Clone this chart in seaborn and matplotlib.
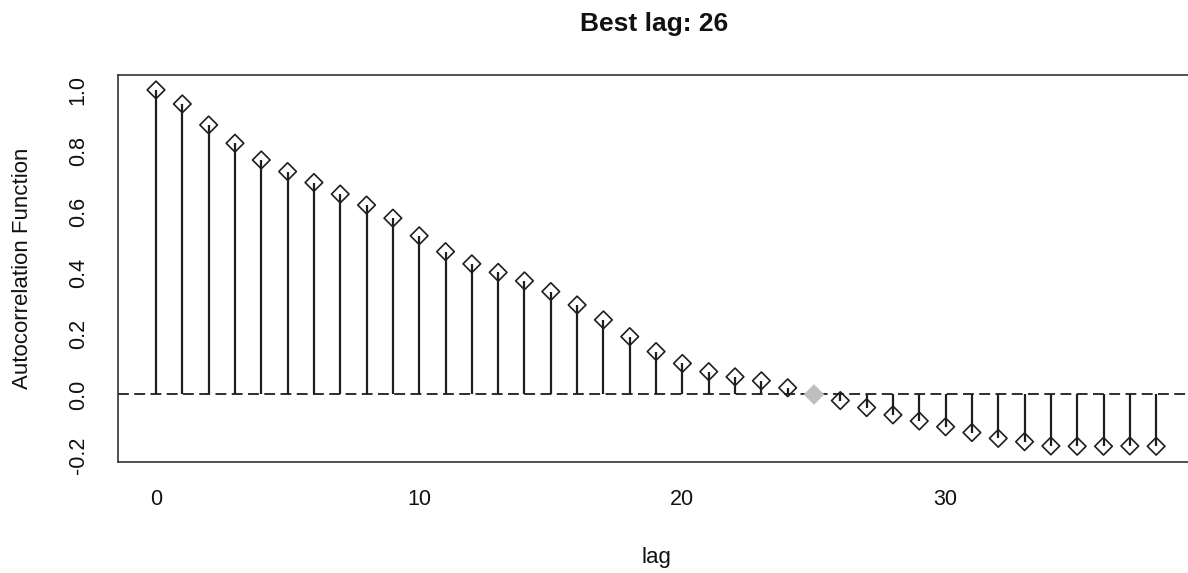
#!/usr/bin/env python3
"""ACF stem plot with the chosen lag highlighted in grey."""
import matplotlib

matplotlib.use("Agg")  # headless
import matplotlib.pyplot as plt
import pandas as pd
import seaborn as sns

LAGS = list(range(39))
ACF = [
    1.000, 0.954, 0.885, 0.825, 0.770, 0.732, 0.696, 0.658, 0.622, 0.579,
    0.521, 0.469, 0.429, 0.401, 0.373, 0.338, 0.294, 0.245, 0.190, 0.141,
    0.102, 0.075, 0.058, 0.045, 0.022, 0.000, -0.020, -0.043, -0.067, -0.087,
    -0.106, -0.125, -0.144, -0.155, -0.169, -0.170, -0.170, -0.169, -0.170,
]
BEST_LAG = 26  # 1-based position in ACF (R style)
X_TICKS = [0, 10, 20, 30]
Y_TICKS = [-0.2, 0.0, 0.2, 0.4, 0.6, 0.8, 1.0]
TITLE = f"Best lag: {BEST_LAG}"

W, H = 1188, 573
INK = "#1e1e1e"


def main() -> None:
    sns.set_style("white")
    plt.rcParams["font.family"] = ["Liberation Sans", "DejaVu Sans"]
    plt.rcParams["axes.unicode_minus"] = False

    df = pd.DataFrame({"lag": LAGS, "acf": ACF})
    best = df.iloc[[BEST_LAG - 1]]
    rest = df.drop(index=BEST_LAG - 1)

    fig = plt.figure(figsize=(W / 100, H / 100), dpi=100)
    ax = fig.add_axes([118 / W, 1 - 461.5 / H, 1 - 118 / W, (461.5 - 75) / H])

    # stems + zero line
    ax.vlines(df["lag"], 0, df["acf"], color=INK, lw=1.6, zorder=2)
    ax.axhline(0, color=INK, lw=1.3, ls=(0, (6, 3)), zorder=1)

    sns.scatterplot(
        data=rest, x="lag", y="acf", marker="D", s=80,
        facecolors="none", edgecolor=INK, linewidth=1.2, ax=ax, zorder=3,
    )
    sns.scatterplot(
        data=best, x="lag", y="acf", marker="D", s=110,
        color="#bebebe", edgecolor="none", ax=ax, zorder=4,
    )

    ax.set_xlim(-38 / 26.32, (W - 156) / 26.32)
    ax.set_ylim(-0.220, 1.049)
    ax.set_xticks(X_TICKS)
    ax.set_yticks(Y_TICKS)
    ax.set_yticklabels([f"{v:.1f}" for v in Y_TICKS], rotation=90, va="center")
    ax.set_xlabel("")
    ax.set_ylabel("")

    for side in ("left", "bottom", "top"):
        ax.spines[side].set_color("#333333")
        ax.spines[side].set_linewidth(1.2)
    ax.spines["right"].set_visible(False)

    ax.tick_params(axis="both", direction="out", length=9, width=1.2,
                   color="#333333", labelsize=15.5, labelcolor="#111111")
    ax.tick_params(axis="x", pad=11)
    ax.tick_params(axis="y", pad=12)

    fig.text(654 / W, 1 - 24 / H, TITLE, ha="center", va="center",
             fontsize=19, fontweight="bold", color="#111111")
    fig.text(656 / W, 1 - 557 / H, "lag", ha="center", va="center",
             fontsize=16, color="#111111")
    fig.text(23 / W, 1 - 268 / H, "Autocorrelation Function", ha="center",
             va="center", rotation=90, fontsize=16, color="#111111")

    fig.savefig("out.png", dpi=100)


if __name__ == "__main__":
    main()
